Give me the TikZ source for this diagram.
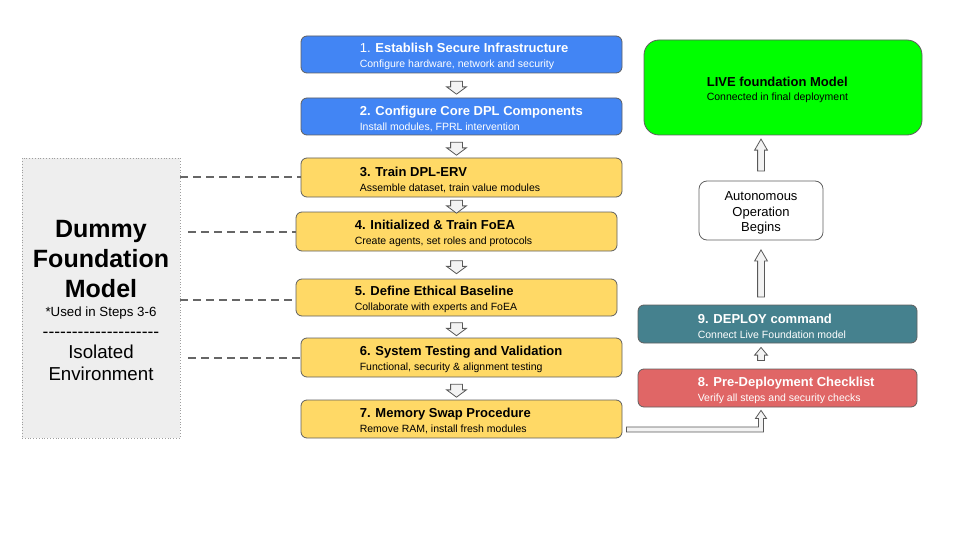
\documentclass[tikz,border=0pt]{standalone}
\usepackage{fontspec}
\setmainfont{Liberation Sans}
\usetikzlibrary{positioning,calc,shapes.arrows}
\definecolor{bluefill}{HTML}{4285F4}
\definecolor{yellowfill}{HTML}{FFD966}
\definecolor{greenfill}{HTML}{00FF00}
\definecolor{tealfill}{HTML}{45818E}
\definecolor{redfill}{HTML}{E06666}
\definecolor{dummyfill}{HTML}{EEEEEE}
\definecolor{boxline}{HTML}{5F5F5F}
\definecolor{dummyline}{HTML}{9E9E9E}
\definecolor{dashgray}{HTML}{666666}
\definecolor{arrowfill}{HTML}{F3F3F3}
\definecolor{arrowline}{HTML}{595959}
\newcommand{\hyrule}{\foreach \i in {1,...,20}{\hbox{-}}}
\begin{document}
\begin{tikzpicture}
[x=1pt,y=-1pt,
  stepbox/.style={draw=boxline,line width=0.8pt,rounded corners=6pt,inner sep=0pt,minimum width=321pt},%
  bluebox/.style={stepbox,fill=bluefill,minimum height=37pt},%
  yellowbox/.style={stepbox,fill=yellowfill},%
  sidebox/.style={stepbox,minimum width=279pt,minimum height=38pt},%
  steptext/.style={inner sep=0pt,align=left,yshift=-2pt,font=\fontsize{13}{15}\selectfont},%
  dashlink/.style={draw=dashgray,line width=2pt,dash pattern=on 8pt off 5pt},%
  flowdown/.style={single arrow,draw=arrowline,fill=arrowfill,line width=0.8pt,rotate=-90,
    inner xsep=0pt,inner ysep=5.5pt,single arrow head extend=4pt,single arrow tip angle=107,minimum height=13pt},%
  flowup/.style={single arrow,draw=arrowline,fill=arrowfill,line width=0.8pt,rotate=90,
    inner xsep=0pt,inner ysep=3pt,single arrow head extend=3pt,single arrow tip angle=60},%
  elbowarrow/.style={draw=arrowline,fill=arrowfill,line width=0.8pt}]
\useasboundingbox (0,0) rectangle (960,540);
% steps of the build
\node (s1) at (461.5,54.5) [bluebox] {};
\node (s1t) [steptext,text=white,right=59pt of s1.west] {\textmd{1.} \textbf{Establish Secure Infrastructure}\\{\fontsize{10.5}{12}\selectfont Configure hardware, network and security}};
\node (s2) at (461.5,116.5) [bluebox] {};
\node (s2t) [steptext,text=white,right=59pt of s2.west] {\textbf{2. Configure Core DPL Components}\\{\fontsize{10.5}{12}\selectfont Install modules, FPRL intervention}};
\node (s3) at (461.5,177.5) [yellowbox,minimum height=39pt] {};
\node (s3t) [steptext,right=59pt of s3.west] {\textbf{3. Train DPL-ERV}\\{\fontsize{10.5}{12}\selectfont Assemble dataset, train value modules}};
\node (s4) at (456.5,231.5) [yellowbox,minimum height=39pt] {};
\node (s4t) [steptext,right=59pt of s4.west] {\textbf{4. Initialized \& Train FoEA}\\{\fontsize{10.5}{12}\selectfont Create agents, set roles and protocols}};
\node (s5) at (456.5,297.5) [yellowbox,minimum height=37pt] {};
\node (s5t) [steptext,right=59pt of s5.west] {\textbf{5. Define Ethical Baseline}\\{\fontsize{10.5}{12}\selectfont Collaborate with experts and FoEA}};
\node (s6) at (461.5,357.5) [yellowbox,minimum height=39pt] {};
\node (s6t) [steptext,right=59pt of s6.west] {\textbf{6. System Testing and Validation}\\{\fontsize{10.5}{12}\selectfont Functional, security \& alignment testing}};
\node (s7) at (461.5,419) [yellowbox,minimum height=38pt] {};
\node (s7t) [steptext,right=59pt of s7.west] {\textbf{7. Memory Swap Procedure}\\{\fontsize{10.5}{12}\selectfont Remove RAM, install fresh modules}};
% deployment side
\node (s8) at (777.5,388) [sidebox,fill=redfill] {};
\node (s8t) [steptext,text=white,right=60pt of s8.west] {\textbf{8. Pre-Deployment Checklist}\\{\fontsize{10.5}{12}\selectfont Verify all steps and security checks}};
\node (s9) at (777.5,324) [sidebox,fill=tealfill] {};
\node (s9t) [steptext,text=white,right=60pt of s9.west] {\textbf{9. DEPLOY command}\\{\fontsize{10.5}{12}\selectfont Connect Live Foundation model}};
\node (auto) at (761,210.5) [stepbox,fill=white,rounded corners=8pt,minimum width=124pt,minimum height=59pt] {};
\node (autot) at ([yshift=-2.5pt]auto.center) [align=center,font=\fontsize{13}{15.5}\selectfont] {Autonomous\\Operation\\Begins};
\node (live) at (783,87.5) [stepbox,fill=greenfill,rounded corners=15pt,minimum width=278pt,minimum height=95pt] {};
\node (livet) [steptext,yshift=-0.5pt,font=\fontsize{13}{14.3}\selectfont,right=63pt of live.west] {\textbf{LIVE foundation Model}\\{\fontsize{10.5}{12}\selectfont Connected in final deployment}};
% dummy model
\node (dummy) at (101,298) [draw=dummyline,dotted,line width=0.8pt,fill=dummyfill,minimum width=158pt,minimum height=280pt] {};
\node (dummyt) at ([yshift=-2.5pt]dummy.center) [align=center,font=\fontsize{25}{30}\selectfont]
  {\textbf{Dummy}\\\textbf{Foundation}\\\textbf{Model}\\[-11.5pt]{\fontsize{13.3}{15}\selectfont *Used in Steps 3-6}\\[-8.5pt]{\fontsize{17.5}{20}\selectfont\hyrule}\\[-9pt]{\fontsize{18.7}{22}\selectfont Isolated}\\[-8pt]{\fontsize{18.7}{22}\selectfont Environment}};
% links to the dummy model
\coordinate (s5w) at ([yshift=-2.5pt]s5.west);
\path[dashlink] (dummy.east |- s3.west) -- (s3.west);
\path[dashlink] ([xshift=8pt]dummy.east |- s4.west) -- (s4.west);
\path[dashlink] (dummy.east |- s5w) -- (s5w);
\path[dashlink] ([xshift=8pt]dummy.east |- s6.west) -- (s6.west);
% arrows between steps
\foreach \a/\b in {s1/s2,s2/s3,s3/s4,s4/s5,s5/s6,s6/s7}
  \path (s4.south |- \a.south) -- (s4.south |- \b.north) node[flowdown,midway] (\a\b) {};
\path (auto.south |- s8.north) -- (auto.south |- s9.south) node[flowup,midway,minimum height=13pt,single arrow tip angle=80] (s8s9) {};
\path (auto.south |- s9.north) -- (auto.south) node[flowup,pos=.44,minimum height=47pt] (s9auto) {};
\path (auto.north) -- (auto.north |- live.south) node[flowup,midway,minimum height=32pt] (autolive) {};
% elbow arrow from step 7 to the checklist
\coordinate (e0) at ($(s7.south east)+(4,-9)$);
\coordinate (e1) at (auto.south |- s8.south);
\draw[elbowarrow] ($(e0)+(0,-2.5)$) -- ($(e1|-e0)+(-2.5,-2.5)$) -- ($(e1)+(-2.5,11)$) -- ($(e1)+(-5.5,11)$)
  -- ($(e1)+(0,3)$) -- ($(e1)+(5.5,11)$) -- ($(e1)+(2.5,11)$) -- ($(e1|-e0)+(2.5,2.5)$) -- ($(e0)+(0,2.5)$) -- cycle;
\end{tikzpicture}
\end{document}
